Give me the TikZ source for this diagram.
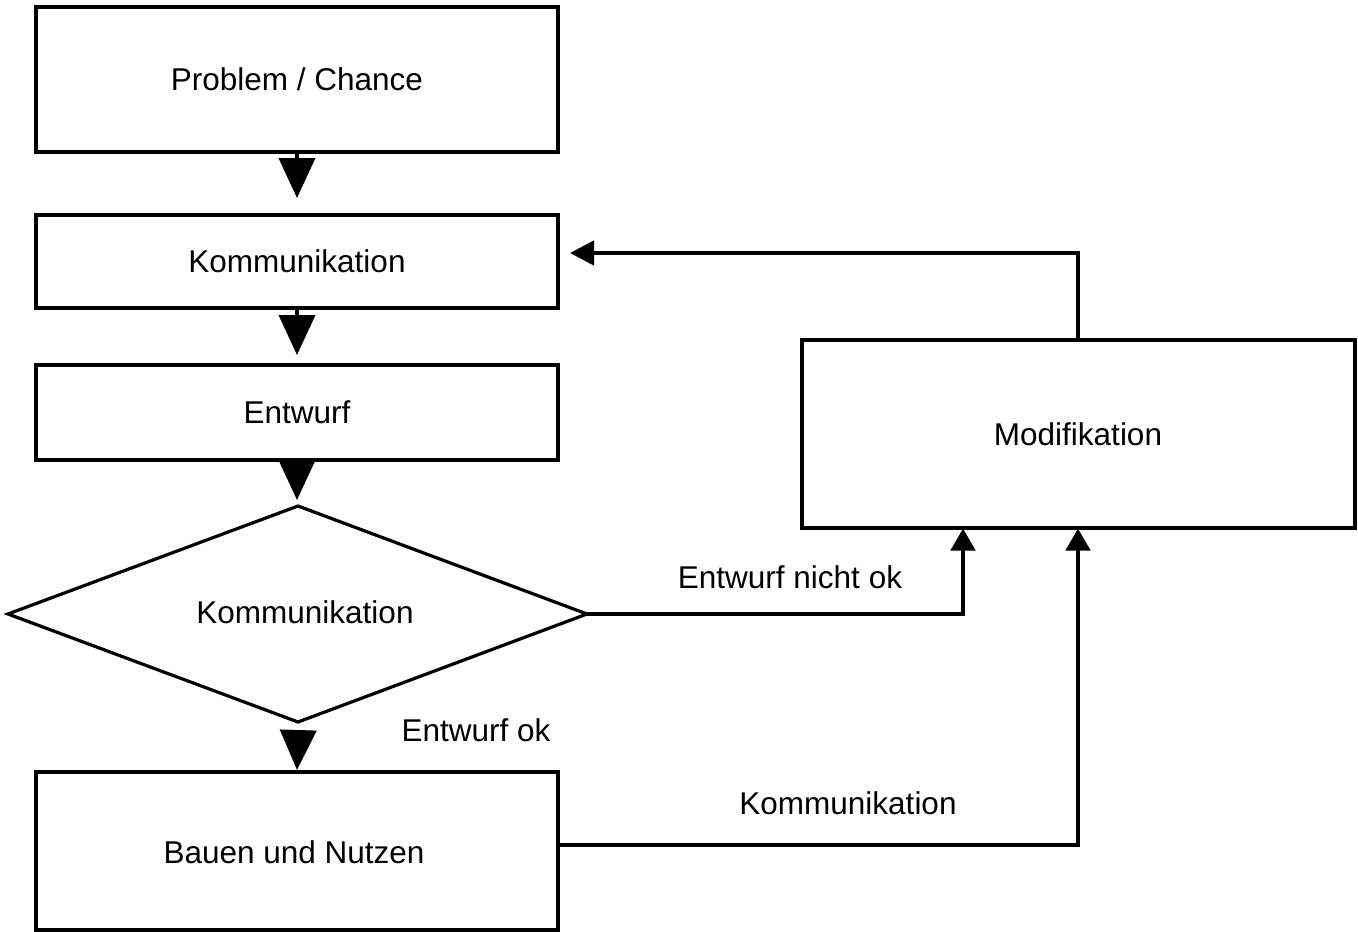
\documentclass[tikz,border=0pt]{standalone}
\usepackage{fontspec}
\setmainfont{Liberation Sans}
\usetikzlibrary{arrows.meta,shapes.geometric}
\begin{document}
\begin{tikzpicture}[x=1pt,y=-1pt,
  every node/.style={font=\fontsize{31.5}{36}\selectfont},
  box/.style={draw, line width=4pt, inner sep=0pt},
  label/.style={inner sep=0pt},
  bigdown/.style={-{Triangle[length=40pt,width=36pt]}, line width=4pt},
  flow/.style={line width=4.5pt, line join=miter},
  smallhead/.style={-{Triangle[length=22pt,width=24pt]}},
]
\useasboundingbox (0,0) rectangle (1358,932);
% process boxes
\node[box, minimum width=522pt, minimum height=145pt] (prob) at (297,79.5) {Problem / Chance};
\node[box, minimum width=522pt, minimum height=93pt] (komm) at (297,261.5) {Kommunikation};
\node[box, minimum width=522pt, minimum height=95pt] (entw) at (297,412.5) {Entwurf};
\node[box, minimum width=522pt, minimum height=158pt] (bau) at (297,851) {};
\node[label] (bautext) at (294,852) {Bauen und Nutzen};
\node[box, minimum width=553pt, minimum height=188pt] (mod) at (1078,434) {Modifikation};
% decision
\coordinate (dtop) at (298,506);
\coordinate (dright) at (587,614);
\coordinate (dbot) at (298,722);
\coordinate (dleft) at (8,614);
\draw[line width=3.2pt, line join=miter] (dtop) -- (dright) -- (dbot) -- (dleft) -- cycle;
\node[label] (dtext) at (305,612) {Kommunikation};
% main flow
\draw[bigdown] (prob.south) -- ++(0,44);
\draw[bigdown] (komm.south) -- ++(0,45);
\draw[bigdown] (entw.south) -- ++(0,38);
\coordinate (okstart) at (298,738);
\draw[bigdown] (okstart) -- (bau.north);
% feedback loops
\coordinate (kommR) at (570,253);
\draw[flow, -{Triangle[length=24pt,width=24pt]}] (mod.north) |- (kommR);
\draw[flow, smallhead] (dright) -- (963,614) -- (963,528.5);
\draw[flow, smallhead] (bau.east |- 0,845) -- (1078,845) -- (1078,528.5);
% edge labels
\node[label] (l1) at (790,577) {Entwurf nicht ok};
\node[label] (l2) at (476,730) {Entwurf ok};
\node[label] (l3) at (848,803) {Kommunikation};
\end{tikzpicture}
\end{document}
